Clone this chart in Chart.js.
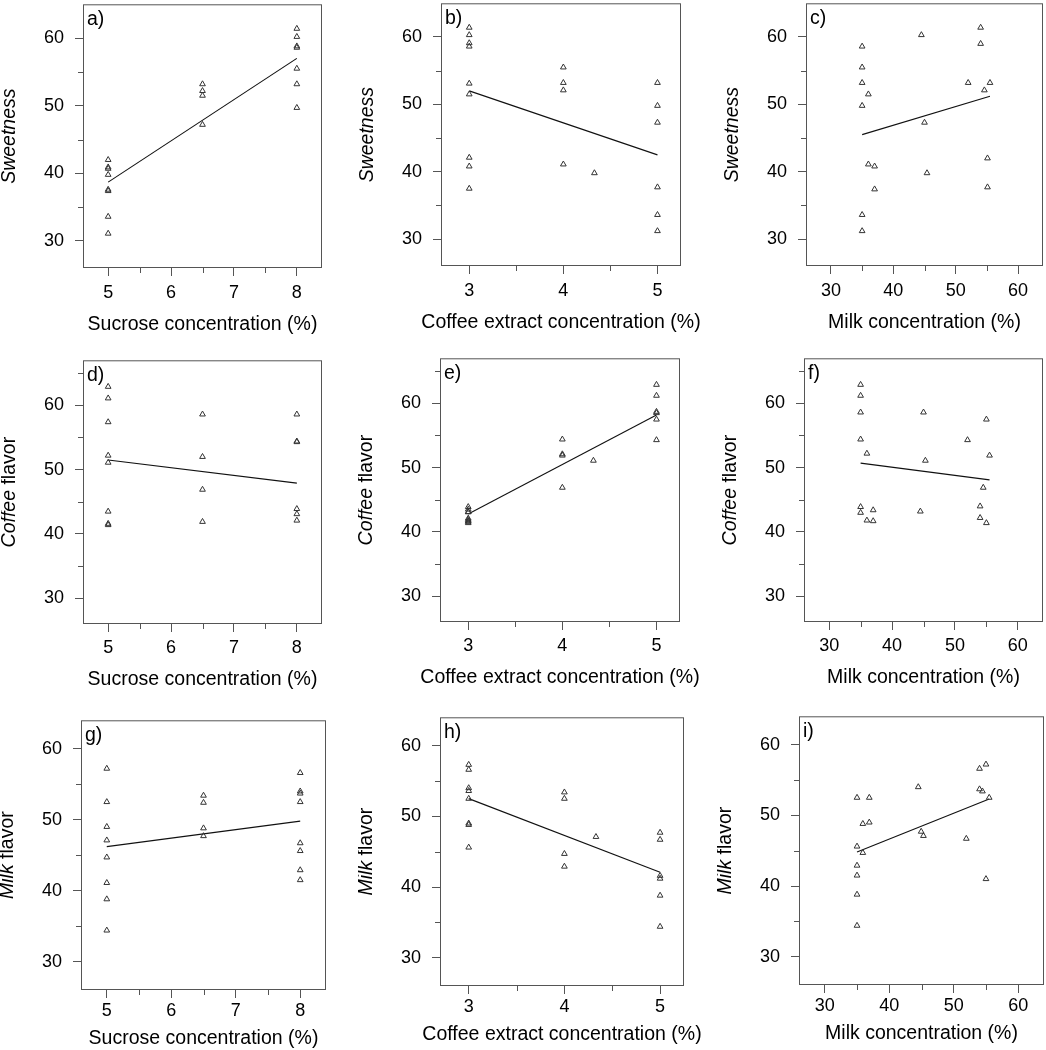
<!doctype html>
<html lang="en">
<head>
<meta charset="utf-8"/>
<title>Sensory scores vs ingredient concentration</title>
<script src="https://cdn.jsdelivr.net/npm/chart.js"></script>
<style>
*{box-sizing:border-box}
html,body{margin:0; padding:0; background:#fff; width:1046px; height:1050px; overflow:hidden; position:relative}
.panel{position:absolute}
canvas{display:block}
</style>
</head>
<body>
<script>
const FONT = '"Liberation Sans", Arial, Helvetica, sans-serif';

// axis ticks
const sucroseTicks = [5, 6, 7, 8];
const sucroseMinor = [5.5, 6.5, 7.5];
const coffeeTicks = [3, 4, 5];
const coffeeMinor = [3.5, 4.5];
const milkTicks = [30, 40, 50, 60];
const milkMinor = [35, 45, 55];
const scoreTicks = [30, 40, 50, 60];
const scoreMinor = [35, 45, 55];
const scoreMinorTall = [35, 45, 55, 65];

// a) sweetness vs sucrose
const aX = [5, 5, 5, 5, 5, 5, 5, 5, 6.5, 6.5, 6.5, 6.5, 8, 8, 8, 8, 8, 8, 8];
const aY = [42.0, 40.9, 40.7, 39.8, 37.6, 37.4, 33.6, 31.1, 53.2, 52.2, 51.5, 47.2, 61.4, 60.2, 58.8, 58.6, 55.5, 53.2, 49.7];
const aFitX = [5, 8];
const aFitY = [38.7, 57.0];

// b) sweetness vs coffee extract
const bX = [3, 3, 3, 3, 3, 3, 3, 3, 3, 4, 4, 4, 4, 4.33, 5, 5, 5, 5, 5, 5];
const bY = [61.4, 60.3, 59.1, 58.6, 53.1, 51.5, 42.1, 40.8, 37.5, 55.5, 53.2, 52.1, 41.1, 39.8, 53.2, 49.8, 47.3, 37.7, 33.6, 31.2];
const bFitX = [3, 5];
const bFitY = [52.0, 42.5];

// c) sweetness vs milk
const cX = [35, 35, 35, 36, 35, 36, 37, 37, 35, 35, 44.5, 45, 45.4, 52, 54, 54, 54.6, 55.5, 55.1, 55.1];
const cY = [58.6, 55.5, 53.2, 51.5, 49.8, 41.1, 40.8, 37.4, 33.6, 31.2, 60.3, 47.3, 39.8, 53.2, 61.4, 59.0, 52.1, 53.2, 42.0, 37.7];
const cFitX = [35, 55.5];
const cFitY = [45.5, 51.2];

// d) coffee flavor vs sucrose
const dX = [5, 5, 5, 5, 5, 5, 5, 5, 6.5, 6.5, 6.5, 6.5, 8, 8, 8, 8, 8, 8];
const dY = [62.9, 61.1, 57.4, 52.2, 51.1, 43.5, 41.6, 41.4, 58.6, 52.0, 46.9, 41.9, 58.6, 54.4, 54.3, 43.9, 43.1, 42.1];
const dFitX = [5, 8];
const dFitY = [51.5, 47.9];

// e) coffee flavor vs coffee extract
const eX = [3, 3, 3, 3, 3, 3, 3, 3, 3, 4, 4, 4, 4, 4.33, 5, 5, 5, 5, 5, 5];
const eY = [43.9, 43.5, 43.1, 43.1, 42.1, 41.9, 41.7, 41.6, 41.4, 54.4, 52.1, 51.9, 46.9, 51.1, 62.9, 61.2, 58.7, 58.5, 57.5, 54.3];
const eFitX = [3, 5];
const eFitY = [42.8, 58.2];

// f) coffee flavor vs milk
const fX = [35, 35, 35, 35, 36, 35, 35, 36, 37, 37, 45, 45.3, 44.5, 52, 55, 55.5, 54.5, 54, 54, 55];
const fY = [62.9, 61.2, 58.6, 54.4, 52.2, 43.9, 43.0, 41.8, 43.4, 41.7, 58.6, 51.1, 43.2, 54.3, 57.5, 51.9, 46.9, 44.0, 42.2, 41.4];
const fFitX = [35, 55.5];
const fFitY = [50.7, 48.1];

// g) milk flavor vs sucrose
const gX = [5, 5, 5, 5, 5, 5, 5, 5, 6.5, 6.5, 6.5, 6.5, 8, 8, 8, 8, 8, 8, 8, 8];
const gY = [57.2, 52.5, 49.0, 47.1, 44.7, 41.1, 38.8, 34.4, 53.4, 52.4, 48.8, 47.7, 56.6, 54.0, 53.7, 52.5, 46.7, 45.6, 42.9, 41.5];
const gFitX = [5, 8];
const gFitY = [46.2, 49.8];

// h) milk flavor vs coffee extract
const hX = [3, 3, 3, 3, 3, 3, 3, 3, 4, 4, 4, 4, 4.33, 5, 5, 5, 5, 5, 5];
const hY = [57.3, 56.6, 54.0, 53.6, 52.5, 49.0, 48.8, 45.6, 53.4, 52.5, 44.7, 42.9, 47.1, 47.7, 46.7, 41.6, 41.2, 38.8, 34.4];
const hFitX = [3, 5];
const hFitY = [52.5, 42.1];

// i) milk flavor vs milk
const iX = [35, 35, 35, 35, 35, 35, 35.9, 35.9, 36.9, 36.9, 44.5, 44.95, 45.3, 51.95, 54, 55, 54, 54.45, 55.5, 55];
const iY = [52.5, 45.6, 42.9, 41.5, 38.8, 34.4, 48.8, 44.7, 52.5, 49.0, 54.0, 47.7, 47.1, 46.7, 56.6, 57.2, 53.7, 53.4, 52.5, 41.0];
const iFitX = [35, 55.5];
const iFitY = [44.8, 52.3];

const sucroseTitle = 'Sucrose concentration (%)';
const coffeeTitle = 'Coffee extract concentration (%)';
const milkTitle = 'Milk concentration (%)';
const sweetTitle = [['Sweetness', true]];
const coffeeFlavorTitle = [['Coffee', true], [' flavor', false]];
const milkFlavorTitle = [['Milk', true], [' flavor', false]];

const sucroseAxis = { range: [4.6, 8.4], ticks: sucroseTicks, minor: sucroseMinor, title: sucroseTitle };
const coffeeAxis = { range: [2.7, 5.25], ticks: coffeeTicks, minor: coffeeMinor, title: coffeeTitle };
const milkAxis = { range: [26, 64], ticks: milkTicks, minor: milkMinor, title: milkTitle };

// per row: x tick label padding, x title baseline below the plot box
const rowStyle = [
  { labelPad: 6, titleOff: 62 },
  { labelPad: 5.5, titleOff: 60.5 },
  { labelPad: 2, titleOff: 54 }
];

// plot box of each panel: left, top, right, bottom (page pixels)
const panels = [
  { letter: 'a', row: 0, box: [83, 2, 322, 268],    xa: sucroseAxis, yr: [26, 65], ym: scoreMinor,     yt: sweetTitle,        xs: aX, ys: aY, fx: aFitX, fy: aFitY },
  { letter: 'b', row: 0, box: [441, 1, 681, 266],   xa: coffeeAxis,  yr: [26, 65], ym: scoreMinor,     yt: sweetTitle,        xs: bX, ys: bY, fx: bFitX, fy: bFitY },
  { letter: 'c', row: 0, box: [806, 1, 1043, 266],  xa: milkAxis,    yr: [26, 65], ym: scoreMinor,     yt: sweetTitle,        xs: cX, ys: cY, fx: cFitX, fy: cFitY },
  { letter: 'd', row: 1, box: [83, 358, 322, 624],  xa: sucroseAxis, yr: [26, 67], ym: scoreMinorTall, yt: coffeeFlavorTitle, xs: dX, ys: dY, fx: dFitX, fy: dFitY },
  { letter: 'e', row: 1, box: [440, 356, 680, 622], xa: coffeeAxis,  yr: [26, 67], ym: scoreMinorTall, yt: coffeeFlavorTitle, xs: eX, ys: eY, fx: eFitX, fy: eFitY },
  { letter: 'f', row: 1, box: [804, 356, 1043, 622], xa: milkAxis,   yr: [26, 67], ym: scoreMinorTall, yt: coffeeFlavorTitle, xs: fX, ys: fY, fx: fFitX, fy: fFitY },
  { letter: 'g', row: 2, box: [81, 718, 326, 990],  xa: sucroseAxis, yr: [26, 64], ym: scoreMinor,     yt: milkFlavorTitle,   xs: gX, ys: gY, fx: gFitX, fy: gFitY },
  { letter: 'h', row: 2, box: [440, 715, 684, 986], xa: coffeeAxis,  yr: [26, 64], ym: scoreMinor,     yt: milkFlavorTitle,   xs: hX, ys: hY, fx: hFitX, fy: hFitY },
  { letter: 'i', row: 2, box: [799, 714, 1044, 985], xa: milkAxis,   yr: [26, 64], ym: scoreMinor,     yt: milkFlavorTitle,   xs: iX, ys: iY, fx: iFitX, fy: iFitY }
];

const LEFT = 82, BOTTOM = 66, PAD_T = 2, PAD_R = 40;
const MAJOR = 8, MINOR = 5;

function pts(xs, ys){ return xs.map((x, k) => ({ x: x, y: ys[k] })) }

function noPad(s){ s.paddingTop = 0; s.paddingBottom = 0; s.paddingLeft = 0; s.paddingRight = 0; }

const framePlugin = {
  id: 'frame',
  afterDraw(chart, args, o){
    const ctx = chart.ctx;
    const { left, top, right, bottom } = chart.chartArea;
    const sx = chart.scales.x, sy = chart.scales.y;
    ctx.save();
    ctx.strokeStyle = '#555';
    ctx.lineWidth = 1;
    ctx.strokeRect(left + 0.5, top + 0.5, right - left - 1, bottom - top - 1);
    ctx.beginPath();
    o.xMinor.forEach(v => {
      const px = Math.round(sx.getPixelForValue(v)) + 0.5;
      ctx.moveTo(px, bottom); ctx.lineTo(px, bottom + MINOR);
    });
    o.yMinor.forEach(v => {
      const py = Math.round(sy.getPixelForValue(v)) + 0.5;
      ctx.moveTo(left, py); ctx.lineTo(left - MINOR, py);
    });
    ctx.stroke();

    ctx.fillStyle = '#000';
    ctx.font = '19.5px ' + FONT;
    ctx.textBaseline = 'alphabetic';
    ctx.textAlign = 'left';
    ctx.fillText(o.letter + ')', left + 4, top + 21);
    ctx.textAlign = 'center';
    ctx.fillText(o.xTitle, (left + right) / 2, bottom + o.titleOff);

    // y title, parts may be italic
    ctx.translate(left - 68, (top + bottom) / 2);
    ctx.rotate(-Math.PI / 2);
    ctx.textAlign = 'left';
    const fonts = o.yTitle.map(p => (p[1] ? 'italic ' : '') + '19.5px ' + FONT);
    let total = 0;
    const widths = o.yTitle.map((p, k) => { ctx.font = fonts[k]; const w = ctx.measureText(p[0]).width; total += w; return w; });
    let cx = -total / 2;
    o.yTitle.forEach((p, k) => { ctx.font = fonts[k]; ctx.fillText(p[0], cx, 0); cx += widths[k]; });
    ctx.restore();
  }
};

Chart.defaults.font.family = FONT;
Chart.defaults.color = '#000';

panels.forEach(p => {
  const [l, t, r, b] = p.box;
  const rs = rowStyle[p.row];
  const div = document.createElement('div');
  div.className = 'panel';
  const w = r - l + LEFT + PAD_R, h = b - t + PAD_T + BOTTOM;
  div.style.left = (l - LEFT) + 'px';
  div.style.top = (t - PAD_T) + 'px';
  const cv = document.createElement('canvas');
  cv.width = w; cv.height = h;
  cv.style.width = w + 'px'; cv.style.height = h + 'px';
  div.appendChild(cv);
  document.body.appendChild(div);

  new Chart(cv, {
    type: 'scatter',
    data: {
      datasets: [
        { data: pts(p.xs, p.ys), pointStyle: 'triangle', pointRadius: 3.3, pointHoverRadius: 3.3,
          borderColor: '#333', borderWidth: 1, backgroundColor: 'rgba(0,0,0,0)' },
        { data: pts(p.fx, p.fy), showLine: true, pointRadius: 0, borderColor: '#111', borderWidth: 1.1, fill: false }
      ]
    },
    options: {
      responsive: false, animation: false, devicePixelRatio: 1,
      layout: { padding: { top: PAD_T, right: PAD_R, left: 0, bottom: 0 } },
      plugins: {
        legend: { display: false }, tooltip: { enabled: false },
        frame: { letter: p.letter, xTitle: p.xa.title, yTitle: p.yt, xMinor: p.xa.minor, yMinor: p.ym, titleOff: rs.titleOff }
      },
      scales: {
        x: {
          type: 'linear', position: 'bottom', min: p.xa.range[0], max: p.xa.range[1],
          afterFit(s){ s.height = BOTTOM; noPad(s); },
          afterBuildTicks(s){ s.ticks = p.xa.ticks.map(v => ({ value: v })) },
          grid: { drawOnChartArea: false, drawTicks: true, tickLength: MAJOR, color: '#555', lineWidth: 1 },
          border: { display: false },
          ticks: { padding: rs.labelPad, color: '#000', font: { size: 18 }, maxRotation: 0, autoSkip: false, callback: v => String(v) }
        },
        y: {
          type: 'linear', position: 'left', min: p.yr[0], max: p.yr[1],
          afterFit(s){ s.width = LEFT; noPad(s); },
          afterBuildTicks(s){ s.ticks = scoreTicks.map(v => ({ value: v })) },
          grid: { drawOnChartArea: false, drawTicks: true, tickLength: MAJOR, color: '#555', lineWidth: 1 },
          border: { display: false },
          ticks: { padding: 11, color: '#000', font: { size: 18 }, autoSkip: false, callback: v => String(v) }
        }
      }
    },
    plugins: [framePlugin]
  });
});
</script>
</body>
</html>
